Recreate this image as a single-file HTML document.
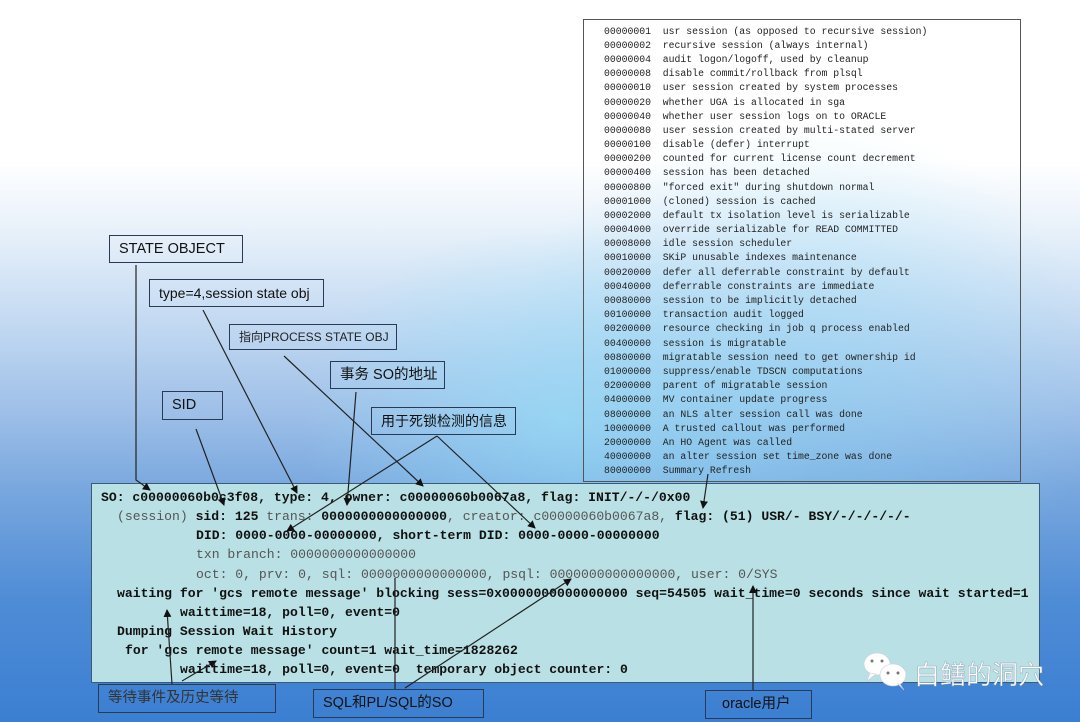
<!DOCTYPE html>
<html><head><meta charset="utf-8">
<style>
html,body{margin:0;padding:0}
body{width:1080px;height:722px;position:relative;overflow:hidden;
background:
radial-gradient(ellipse 260px 200px at 560px 420px, rgba(150,225,250,0.6), rgba(150,225,250,0) 100%),
radial-gradient(ellipse 300px 260px at 800px 380px, rgba(140,215,245,0.5), rgba(140,215,245,0) 100%),
linear-gradient(to bottom,#ffffff 0px,#ffffff 160px,#e8f1fa 230px,#c4daf2 320px,#9fc0e8 410px,#78a7de 490px,#4f8cd6 600px,#3b7fd2 722px);
font-family:"Liberation Sans","Noto Sans CJK SC",sans-serif;}
.lb{position:absolute;border:1.5px solid #2a3a55;box-sizing:border-box;color:#111;font-size:14.5px;line-height:1;white-space:nowrap;padding-left:9px;display:flex;align-items:center;overflow:hidden}
.list{position:absolute;left:583px;top:19px;width:438px;height:463px;border:1.5px solid #555;box-sizing:border-box}
.row{position:absolute;font-family:"Liberation Mono",monospace;font-size:9.8px;color:#222;white-space:pre}
.main{position:absolute;left:91px;top:483px;width:949px;height:200px;background:#b9e0e4;border:1.5px solid #3a5a78;box-sizing:border-box}
.t{position:absolute;font-family:"Liberation Mono",monospace;font-size:13.1px;white-space:pre;color:#111;font-weight:bold;line-height:1}
.g{color:#555;font-weight:normal}
svg{position:absolute;left:0;top:0}
</style></head><body>

<div class="list">
<div class="row" style="left:20px;top:6px">00000001  usr session (as opposed to recursive session)</div>
<div class="row" style="left:20px;top:20px">00000002  recursive session (always internal)</div>
<div class="row" style="left:20px;top:34px">00000004  audit logon/logoff, used by cleanup</div>
<div class="row" style="left:20px;top:48px">00000008  disable commit/rollback from plsql</div>
<div class="row" style="left:20px;top:62px">00000010  user session created by system processes</div>
<div class="row" style="left:20px;top:77px">00000020  whether UGA is allocated in sga</div>
<div class="row" style="left:20px;top:91px">00000040  whether user session logs on to ORACLE</div>
<div class="row" style="left:20px;top:105px">00000080  user session created by multi-stated server</div>
<div class="row" style="left:20px;top:119px">00000100  disable (defer) interrupt</div>
<div class="row" style="left:20px;top:133px">00000200  counted for current license count decrement</div>
<div class="row" style="left:20px;top:147px">00000400  session has been detached</div>
<div class="row" style="left:20px;top:162px">00000800  "forced exit" during shutdown normal</div>
<div class="row" style="left:20px;top:176px">00001000  (cloned) session is cached</div>
<div class="row" style="left:20px;top:190px">00002000  default tx isolation level is serializable</div>
<div class="row" style="left:20px;top:204px">00004000  override serializable for READ COMMITTED</div>
<div class="row" style="left:20px;top:218px">00008000  idle session scheduler</div>
<div class="row" style="left:20px;top:232px">00010000  SKiP unusable indexes maintenance</div>
<div class="row" style="left:20px;top:247px">00020000  defer all deferrable constraint by default</div>
<div class="row" style="left:20px;top:261px">00040000  deferrable constraints are immediate</div>
<div class="row" style="left:20px;top:275px">00080000  session to be implicitly detached</div>
<div class="row" style="left:20px;top:289px">00100000  transaction audit logged</div>
<div class="row" style="left:20px;top:303px">00200000  resource checking in job q process enabled</div>
<div class="row" style="left:20px;top:318px">00400000  session is migratable</div>
<div class="row" style="left:20px;top:332px">00800000  migratable session need to get ownership id</div>
<div class="row" style="left:20px;top:346px">01000000  suppress/enable TDSCN computations</div>
<div class="row" style="left:20px;top:360px">02000000  parent of migratable session</div>
<div class="row" style="left:20px;top:374px">04000000  MV container update progress</div>
<div class="row" style="left:20px;top:389px">08000000  an NLS alter session call was done</div>
<div class="row" style="left:20px;top:403px">10000000  A trusted callout was performed</div>
<div class="row" style="left:20px;top:417px">20000000  An HO Agent was called</div>
<div class="row" style="left:20px;top:431px">40000000  an alter session set time_zone was done</div>
<div class="row" style="left:20px;top:445px">80000000  Summary Refresh</div>
</div>

<div class="main"></div>
<div class="t" style="left:101px;top:491px">SO: c00000060b0c3f08, type: 4, owner: c00000060b0067a8, flag: INIT/-/-/0x00</div>
<div class="t" style="left:117px;top:510px"><span class="g">(session)</span> sid: 125 <span class="g">trans:</span> 0000000000000000<span class="g">, creator: c00000060b0067a8,</span> flag: (51) USR/- BSY/-/-/-/-/-</div>
<div class="t" style="left:196px;top:529px">DID: 0000-0000-00000000, short-term DID: 0000-0000-00000000</div>
<div class="t g" style="left:196px;top:548px">txn branch: 0000000000000000</div>
<div class="t g" style="left:196px;top:568px">oct: 0, prv: 0, sql: 0000000000000000, psql: 0000000000000000, user: 0/SYS</div>
<div class="t" style="left:117px;top:587px">waiting for 'gcs remote message' blocking sess=0x0000000000000000 seq=54505 wait_time=0 seconds since wait started=1</div>
<div class="t" style="left:180px;top:606px">waittime=18, poll=0, event=0</div>
<div class="t" style="left:117px;top:625px">Dumping Session Wait History</div>
<div class="t" style="left:125px;top:644px">for 'gcs remote message' count=1 wait_time=1828262</div>
<div class="t" style="left:180px;top:663px">waittime=18, poll=0, event=0  temporary object counter: 0</div>

<div class="lb" style="left:109px;top:235px;width:134px;height:28px">STATE OBJECT</div>
<div class="lb" style="left:149px;top:279px;width:175px;height:28px;font-size:14px">type=4,session state obj</div>
<div class="lb" style="left:229px;top:324px;width:168px;height:26px;font-size:12px;color:#222">指向PROCESS STATE OBJ</div>
<div class="lb" style="left:330px;top:361px;width:115px;height:28px">事务 SO的地址</div>
<div class="lb" style="left:162px;top:391px;width:61px;height:29px">SID</div>
<div class="lb" style="left:371px;top:407px;width:145px;height:28px;font-size:14px">用于死锁检测的信息</div>
<div class="lb" style="left:98px;top:684px;width:178px;height:29px;color:#333">等待事件及历史等待</div>
<div class="lb" style="left:313px;top:689px;width:171px;height:29px">SQL和PL/SQL的SO</div>
<div class="lb" style="left:705px;top:690px;width:107px;height:29px;padding-left:16px">oracle用户</div>

<svg width="1080" height="722">
<defs><marker id="a" markerWidth="8" markerHeight="8" refX="7" refY="4" orient="auto" markerUnits="userSpaceOnUse"><path d="M0,0 L8,4 L0,8 z" fill="#111"/></marker></defs>
<g stroke="#222" stroke-width="1.2" fill="none" marker-end="url(#a)">
<path d="M136,265 L136,480 L150,490"/>
<line x1="196" y1="429" x2="224" y2="505"/>
<line x1="203" y1="310" x2="297" y2="493"/>
<line x1="284" y1="356" x2="423" y2="486"/>
<line x1="356" y1="392" x2="347" y2="505"/>
<line x1="437" y1="436" x2="287" y2="531"/>
<line x1="437" y1="436" x2="535" y2="528"/>
<line x1="708" y1="474" x2="703" y2="508"/>
<line x1="753" y1="690" x2="753" y2="586"/>
<line x1="172" y1="684" x2="167" y2="610"/>
<line x1="182" y1="681" x2="216" y2="661"/>
<line x1="405" y1="688" x2="571" y2="579"/>
</g>
<line x1="395" y1="689" x2="395" y2="578" stroke="#222" stroke-width="1.2"/>
<g fill="#fff" stroke="#ccd" stroke-width="0.6">
<ellipse cx="877" cy="664" rx="13" ry="11"/>
<path d="M870,673 L867,681 L876,674 z"/>
<ellipse cx="893" cy="675" rx="13" ry="11"/>
<path d="M900,684 L904,690 L898,684 z"/>
</g>
<g fill="#777"><circle cx="872" cy="661" r="1.5"/><circle cx="882" cy="661" r="1.5"/><circle cx="888" cy="673" r="1.5"/><circle cx="898" cy="673" r="1.5"/></g>
<text x="914" y="684" font-family="Noto Sans CJK SC, sans-serif" font-size="26" fill="#fff" stroke="#8a9ab0" stroke-width="0.4">白鳝的洞穴</text>
</svg>
</body></html>
